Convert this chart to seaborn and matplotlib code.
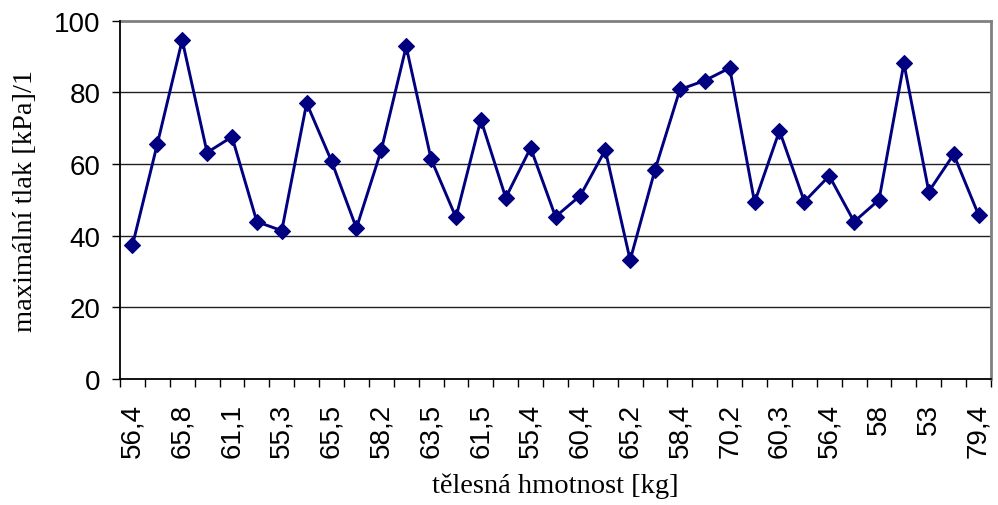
import matplotlib
matplotlib.use("Agg")
import matplotlib.pyplot as plt
import numpy as np
import pandas as pd
import seaborn as sns

# maximum pressure measured for each subject, in order of measurement
pressure = [37.3, 65.6, 94.6, 63.2, 67.6, 43.9, 41.4, 77.0, 60.8, 42.1,
            63.9, 92.8, 61.4, 45.1, 72.4, 50.6, 64.5, 45.3, 51.2, 63.9,
            33.2, 58.4, 80.8, 83.3, 86.8, 49.3, 69.3, 49.5, 56.7, 43.9,
            50.0, 88.1, 52.3, 62.7, 45.8]

# body weights printed under every other subject
weight_labels = ["56,4", "65,8", "61,1", "55,3", "65,5", "58,2", "63,5", "61,5",
                 "55,4", "60,4", "65,2", "58,4", "70,2", "60,3", "56,4", "58",
                 "53", "79,4"]

y_ticks = [0, 20, 40, 60, 80, 100]

df = pd.DataFrame({"subject": np.arange(len(pressure)), "pressure": pressure})

sns.set_style("white")
plt.rcParams["font.family"] = ["Liberation Sans", "DejaVu Sans"]
plt.rcParams["text.color"] = "black"
plt.rcParams["axes.labelcolor"] = "black"
plt.rcParams["xtick.color"] = "black"
plt.rcParams["ytick.color"] = "black"

fig = plt.figure(figsize=(9.98, 5.06), dpi=100)
W, H = 998, 506
left, right, top, bottom = 120, 991, 21.7, 380
ax = fig.add_axes([left / W, 1 - bottom / H, (right - left) / W, (bottom - top) / H])

navy = "#000080"
sns.lineplot(data=df, x="subject", y="pressure", ax=ax, color=navy,
             linewidth=2.1, marker="D", markersize=7.8,
             markeredgecolor=navy, markerfacecolor=navy, markeredgewidth=0.8,
             zorder=5)

n = len(pressure)
ax.set_xlim(-0.5, n - 0.5)
ax.set_ylim(0, 100)

# horizontal gridlines
for v in y_ticks[1:-1]:
    ax.axhline(v, color="#202020", linewidth=1.0, zorder=1)

# plot area frame
for side in ["top", "right"]:
    ax.spines[side].set_visible(True)
    ax.spines[side].set_color("#808080")
    ax.spines[side].set_linewidth(2.0)
for side in ["left", "bottom"]:
    ax.spines[side].set_visible(True)
    ax.spines[side].set_color("#000000")
    ax.spines[side].set_linewidth(1.3)
    ax.spines[side].set_zorder(6)

# y axis
ax.set_yticks(y_ticks)
ax.set_yticklabels([str(v) for v in y_ticks])
ax.tick_params(axis="y", direction="out", length=6, width=1.0, color="black",
               labelcolor="black", pad=8, labelsize=20, left=True)

# x axis: labels under every other subject, tick marks between subjects
label_pos = np.arange(0, n, 2)
ax.set_xticks(label_pos)
ax.set_xticklabels(weight_labels, rotation=90, va="top", ha="center")
ax.set_xticks(np.arange(-0.5, n, 1.0), minor=True)
ax.tick_params(axis="x", which="major", length=0, pad=17, labelsize=20,
               labelcolor="black", bottom=True)
ax.tick_params(axis="x", which="minor", direction="out", length=6, width=1.0,
               color="black", bottom=True)

ax.set_xlabel("tělesná hmotnost [kg]", family=["Liberation Serif", "DejaVu Serif"],
              fontsize=20.5, color="black")
ax.set_ylabel("maximální tlak [kPa]/1", family=["Liberation Serif", "DejaVu Serif"],
              fontsize=20.5, color="black")
ax.xaxis.set_label_coords(0.5, -0.262)
ax.yaxis.set_label_coords(-0.094, 0.5)

ax.grid(False)
fig.savefig("out.png", dpi=100)
